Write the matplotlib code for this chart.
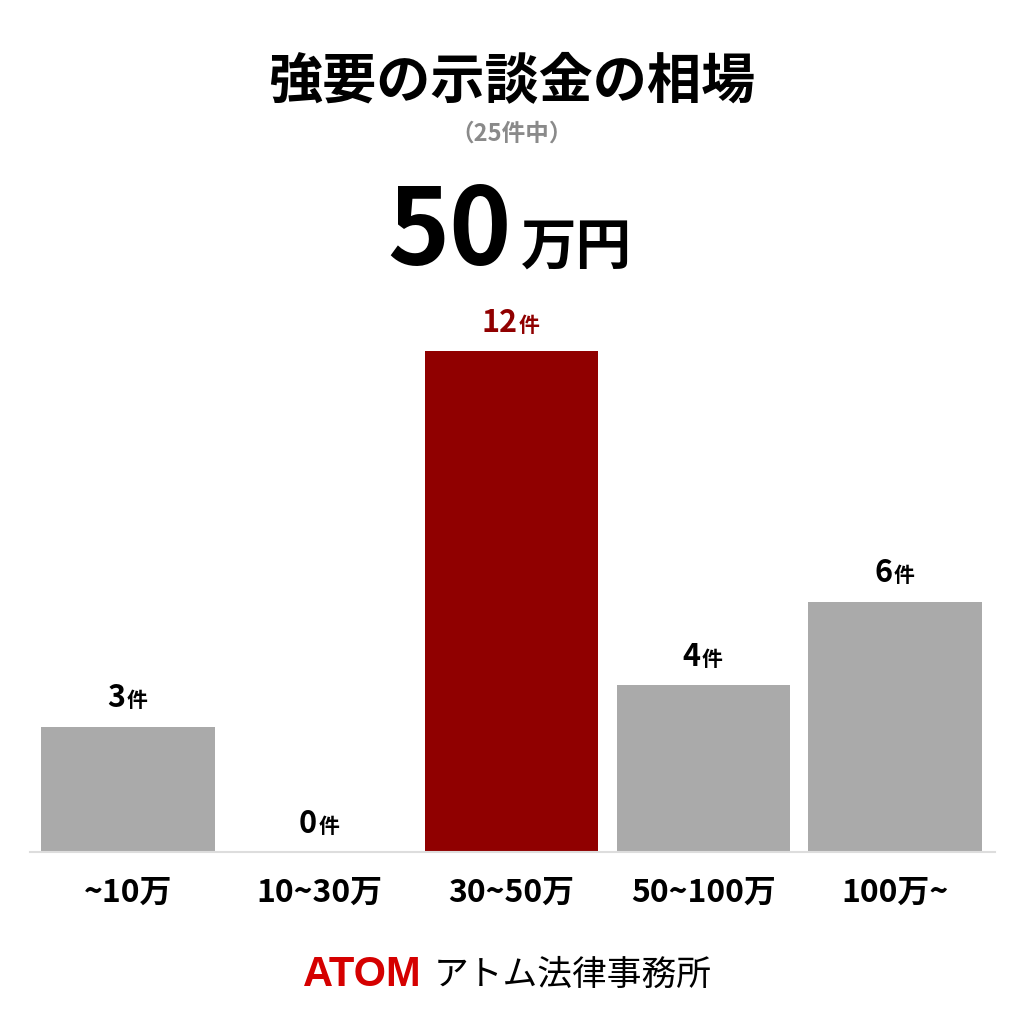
import matplotlib
matplotlib.use('Agg')
import matplotlib.pyplot as plt

plt.rcParams['font.family'] = ['Noto Sans CJK JP', 'DejaVu Sans']

# データ
categories = ['~10万', '10~30万', '30~50万', '50~100万', '100万~']
counts = [3, 0, 12, 4, 6]
highlight = 2  # 相場の区分

title = '強要の示談金の相場'
subtitle = '（25件中）'
median_num = '50'
median_unit = '万円'

W = 1024
fig = plt.figure(figsize=(10.24, 10.24), dpi=100)
fig.patch.set_facecolor('white')

ax = fig.add_axes([30 / W, (W - 852) / W, 965 / W, (852 - 300) / W])
colors = ['#900000' if i == highlight else '#aaaaaa' for i in range(len(counts))]
x = list(range(len(counts)))
ax.bar(x, counts, width=0.905, color=colors)
ax.set_xlim(-0.51, 4.52)
ax.set_ylim(0, 552 / 41.75)

for s in ['top', 'right', 'left']:
    ax.spines[s].set_visible(False)
ax.spines['bottom'].set_color('#dddddd')
ax.spines['bottom'].set_linewidth(1.5)
ax.set_yticks([])
ax.set_xticks(x)
ax.set_xticklabels(categories, fontsize=23, fontweight='bold')
ax.tick_params(axis='x', length=0, pad=18)

# 値ラベル (数字 + 件)
for i, v in enumerate(counts):
    c = '#900000' if i == highlight else 'black'
    shift = (len(str(v)) * 12 - 16) / 2
    ax.annotate(str(v), (i, v), xytext=(shift, 14), textcoords='offset points',
                ha='right', va='baseline', fontsize=22, fontweight='bold', color=c)
    ax.annotate('件', (i, v), xytext=(shift + 1, 14), textcoords='offset points',
                ha='left', va='baseline', fontsize=15, fontweight='bold', color=c)

# タイトル
fig.text(0.5, 1 - 82 / W, title, ha='center', va='center', fontsize=39, fontweight='bold')
fig.text(0.5, 1 - 134 / W, subtitle, ha='center', va='center', fontsize=17,
         fontweight='bold', color='#8a8a8a')
fig.text(512 / W, 1 - 265 / W, median_num, ha='right', va='baseline',
         fontsize=76, fontweight='bold')
fig.text(521 / W, 1 - 265 / W, median_unit, ha='left', va='baseline',
         fontsize=40, fontweight='bold')

# ロゴ
fig.text(303 / W, 1 - 975 / W, 'ATOM', ha='left', va='center', fontsize=30,
         fontweight='heavy', color='#d50000', family=['Liberation Sans', 'DejaVu Sans'])
fig.text(434 / W, 1 - 975 / W, 'アトム法律事務所', ha='left', va='center', fontsize=25)

fig.savefig('out.png', dpi=100, facecolor='white')
